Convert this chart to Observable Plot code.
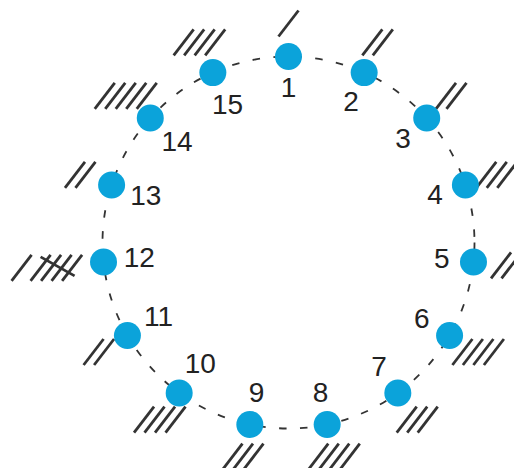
<!DOCTYPE html>
<html>
<head>
<meta charset="utf-8">
<script src="https://cdn.jsdelivr.net/npm/d3@7"></script>
<script src="https://cdn.jsdelivr.net/npm/@observablehq/plot@0.6"></script>
<style>
  html, body { margin: 0; padding: 0; background: #fff; }
  #chart { width: 514px; height: 468px; overflow: hidden; }
</style>
</head>
<body>
<div id="chart"></div>
<script>
// ---- data ----
const nodeLabels = ["1","2","3","4","5","6","7","8","9","10","11","12","13","14","15"];
const tallyCounts = [1, 2, 2, 3, 2, 4, 3, 4, 3, 4, 2, 6, 2, 5, 4];

// ---- layout (pixel-like units, centre of ring at 0,0) ----
const W = 514, H = 468;
const CX = 288, CY = 242, R = 186;
const step = 360 / nodeLabels.length;

function polar(i, d) {
  const a = i * step * Math.PI / 180;
  return [d * Math.sin(a), -d * Math.cos(a)];
}

const nodes = nodeLabels.map((label, i) => {
  const [x, y] = polar(i, R);
  const [lx, ly] = polar(i, R - (label.length > 1 ? 36 : 32));
  return {label, count: tallyCounts[i], x, y, lx, ly};
});

// tally strokes: "/" strokes; more than five -> extra singles + crossed group of four
const SDX = 20, SDY = 26, SP = 10.5, GAP = 19;
const segments = [];
nodes.forEach((n, i) => {
  const c = n.count;
  const crossed = c > 5;
  const singles = crossed ? c - 5 : c;
  const bottoms = [];
  for (let k = 0; k < singles; k++) bottoms.push(k * SP);
  let start = 0;
  if (crossed) {
    start = singles > 0 ? (singles - 1) * SP + GAP : 0;
    for (let k = 0; k < 4; k++) bottoms.push(start + k * SP);
  }
  const width = bottoms[bottoms.length - 1] + SDX;
  const dist = 219 + (crossed ? 24 : 0);
  const [gx, gy] = polar(i, dist);
  const ox = gx - width / 2, oy = gy + SDY / 2;
  bottoms.forEach(b => segments.push({x1: ox + b, y1: oy, x2: ox + b + SDX, y2: oy - SDY}));
  if (crossed) {
    segments.push({x1: ox + start + 10, y1: oy - 24, x2: ox + start + 44, y2: oy - 5});
  }
});

const plot = Plot.plot({
  width: W,
  height: H,
  margin: 0,
  x: {domain: [-CX, W - CX], range: [0, W], axis: null},
  y: {domain: [-CY, H - CY], range: [0, H], axis: null},
  style: {background: "white", overflow: "hidden"},
  marks: [
    Plot.dot([{x: 0, y: 0}], {x: "x", y: "y", r: R, fill: "none", stroke: "#333", strokeWidth: 1.8, strokeDasharray: "7.5,13.5"}),
    Plot.link(segments, {x1: "x1", y1: "y1", x2: "x2", y2: "y2", stroke: "#333", strokeWidth: 2.8, strokeLinecap: "butt"}),
    Plot.dot(nodes, {x: "x", y: "y", r: 13.5, fill: "#0ba3da"}),
    Plot.text(nodes, {x: "lx", y: "ly", text: "label", fontSize: 28, fill: "#222",
      fontFamily: "'Liberation Sans', Arial, Helvetica, sans-serif"})
  ]
});
document.getElementById("chart").appendChild(plot);
</script>
</body>
</html>
